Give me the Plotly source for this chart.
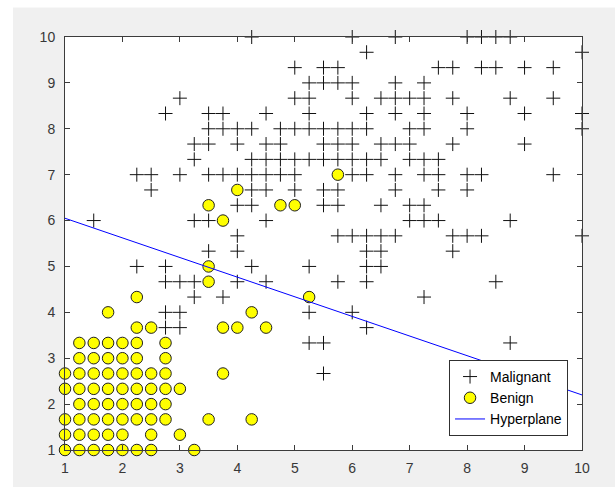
import plotly.graph_objects as go

# ---- Data ----
# Malignant samples (x, y)
malignant_x = [
    4.25, 6, 6.75, 8, 8.25, 8.5, 8.75,                                   # y=10
    6.25, 10,                                                            # y=9.667
    5, 5.5, 5.75, 7.5, 7.75, 8.25, 8.5, 9, 9.5,                          # y=9.333
    5.25, 5.5, 5.75, 6, 6.75, 7.25,                                      # y=9
    3, 5, 5.25, 6, 6.5, 6.75, 7, 7.25, 7.75, 8.75, 9.5,                  # y=8.667
    2.75, 3.5, 3.75, 4.5, 5.25, 6.25, 6.75, 7.25, 8, 9, 10,              # y=8.333
    3.5, 3.75, 4, 4.25, 4.75, 5, 5.25, 5.5, 5.75, 6, 6.25, 7, 7.25, 8, 10,  # y=8
    3.25, 3.5, 4, 4.5, 4.75, 5.5, 5.75, 6, 6.5, 6.75, 7, 7.75, 9,        # y=7.667
    3.25, 4.25, 4.5, 4.75, 5, 5.25, 5.5, 5.75, 6, 6.25, 6.5, 7, 7.25, 7.5,  # y=7.333
    2.25, 2.5, 3, 3.5, 3.75, 4, 4.25, 4.5, 4.75, 5, 6, 6.25, 6.75, 7.25, 7.5, 8, 8.25, 9.5,  # y=7
    2.5, 4.25, 4.5, 5, 5.5, 5.75, 6.75, 7.5, 8,                          # y=6.667
    4, 4.25, 5.5, 5.75, 6.5, 7, 7.25,                                    # y=6.333
    1.5, 3.25, 3.5, 4.5, 7, 7.25, 7.5, 8.75,                             # y=6
    4, 5.75, 6, 6.25, 6.5, 6.75, 7.75, 8, 8.25, 10,                      # y=5.667
    3.5, 4, 6.25, 6.5, 7.75,                                             # y=5.333
    2.25, 2.75, 4.25, 5.25, 6.25, 6.5,                                   # y=5
    2.75, 3, 3.25, 4, 4.5, 5.75, 6.25, 8.5,                              # y=4.667
    3.25, 3.75, 7.25,                                                    # y=4.333
    2.75, 3, 5.25, 6,                                                    # y=4
    2.75, 3, 6.25,                                                       # y=3.667
    5.25, 5.5, 8.75,                                                     # y=3.333
    5.5,                                                                 # y=2.667
]
malignant_y = (
    [10] * 7 + [9.667] * 2 + [9.333] * 9 + [9] * 6 + [8.667] * 11 + [8.333] * 11
    + [8] * 15 + [7.667] * 13 + [7.333] * 14 + [7] * 18 + [6.667] * 9 + [6.333] * 7
    + [6] * 8 + [5.667] * 10 + [5.333] * 5 + [5] * 6 + [4.667] * 8 + [4.333] * 3
    + [4] * 4 + [3.667] * 3 + [3.333] * 3 + [2.667] * 1
)

# Benign samples (x, y)
benign_x = [
    5.75,                                              # y=7
    4,                                                 # y=6.667
    3.5, 4.75, 5,                                      # y=6.333
    3.75,                                              # y=6
    3.5,                                               # y=5
    3.5,                                               # y=4.667
    2.25, 5.25,                                        # y=4.333
    1.75, 4.25,                                        # y=4
    2.25, 2.5, 3.75, 4, 4.5,                           # y=3.667
    1.25, 1.5, 1.75, 2, 2.25, 2.75,                    # y=3.333
    1.25, 1.5, 1.75, 2, 2.25, 2.75,                    # y=3
    1, 1.25, 1.5, 1.75, 2, 2.25, 2.5, 2.75, 3.75,      # y=2.667
    1, 1.25, 1.5, 1.75, 2, 2.25, 2.5, 2.75, 3,         # y=2.333
    1.25, 1.5, 1.75, 2, 2.25, 2.5, 2.75,               # y=2
    1, 1.25, 1.5, 1.75, 2, 2.25, 2.5, 2.75, 3.5, 4.25, # y=1.667
    1, 1.25, 1.5, 1.75, 2, 2.5, 3,                     # y=1.333
    1, 1.25, 1.5, 1.75, 2, 2.25, 2.5, 3.25,            # y=1
]
benign_y = (
    [7] * 1 + [6.667] * 1 + [6.333] * 3 + [6] * 1 + [5] * 1 + [4.667] * 1
    + [4.333] * 2 + [4] * 2 + [3.667] * 5 + [3.333] * 6 + [3] * 6 + [2.667] * 9
    + [2.333] * 9 + [2] * 7 + [1.667] * 10 + [1.333] * 7 + [1] * 8
)

# Decision boundary end points
hyperplane_x = [1, 10]
hyperplane_y = [6.05, 2.2]

tick_vals = [1, 2, 3, 4, 5, 6, 7, 8, 9, 10]

FONT = "Liberation Sans, Arial, Helvetica, sans-serif"
AXIS_COLOR = "#3c3c3c"

fig = go.Figure()
fig.add_trace(go.Scatter(
    x=malignant_x, y=malignant_y, mode="markers", name="Malignant",
    cliponaxis=False,
    marker=dict(symbol="cross-thin", size=10, color="black",
                line=dict(color="#111111", width=1)),
))
fig.add_trace(go.Scatter(
    x=benign_x, y=benign_y, mode="markers", name="Benign",
    cliponaxis=False,
    marker=dict(symbol="circle", size=11.5, color="#ffff00",
                line=dict(color="#202020", width=1)),
))
fig.add_trace(go.Scatter(
    x=hyperplane_x, y=hyperplane_y, mode="lines", name="Hyperplane",
    line=dict(color="#0000ff", width=1),
))

axis_common = dict(
    range=[1, 10], tickvals=tick_vals, ticktext=[str(v) for v in tick_vals],
    showgrid=False, zeroline=False, showline=True, mirror="ticks",
    linecolor=AXIS_COLOR, linewidth=1, ticks="inside", ticklen=5,
    tickcolor=AXIS_COLOR, tickwidth=1,
    tickfont=dict(family=FONT, size=14, color="#383838"),
)

fig.update_layout(
    width=615, height=487,
    margin=dict(l=65, r=33, t=37, b=37, pad=0),
    paper_bgcolor="#f0f0f0", plot_bgcolor="white",
    xaxis=dict(**axis_common, ticklabelstandoff=5),
    yaxis=dict(**axis_common, ticklabelstandoff=6),
    font=dict(family=FONT, size=12, color="black"),
    legend=dict(
        x=0.973, y=0.034, xanchor="right", yanchor="bottom",
        bgcolor="white", bordercolor="#303030", borderwidth=1,
        font=dict(family=FONT, size=14, color="black"),
        tracegroupgap=0,
    ),
    shapes=[
        # white window strips along the top and left edges
        dict(type="rect", xref="paper", yref="paper", layer="below",
             x0=-65 / 517, x1=1.2, y0=1 + 29.5 / 413, y1=1 + 40 / 413,
             fillcolor="white", line=dict(width=0)),
        dict(type="rect", xref="paper", yref="paper", layer="below",
             x0=-65 / 517, x1=-52 / 517, y0=-0.2, y1=1.2,
             fillcolor="white", line=dict(width=0)),
    ],
)

fig.write_html("out.html", config={"displayModeBar": False},
               post_script="document.body.style.margin='0';")
